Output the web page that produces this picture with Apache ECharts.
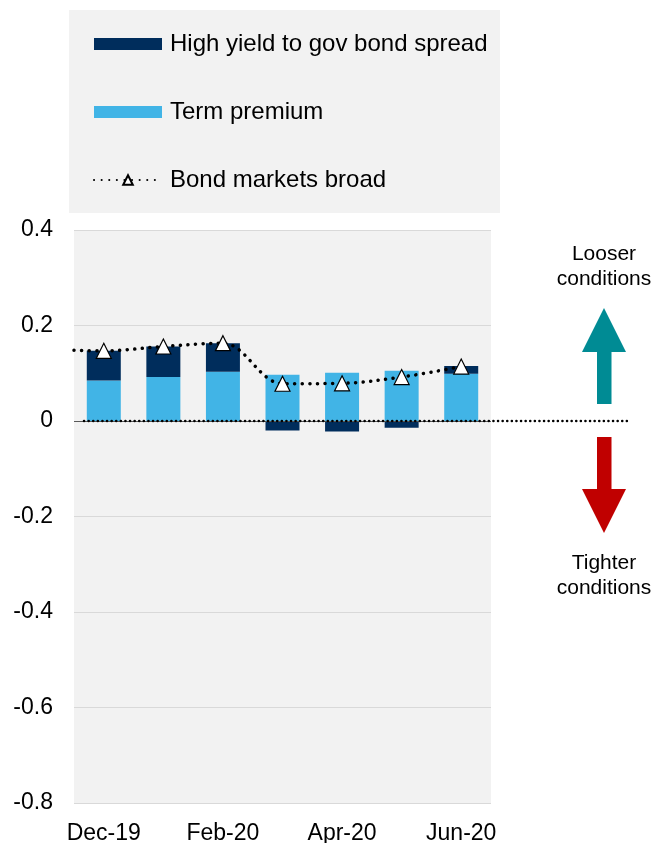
<!DOCTYPE html>
<html><head><meta charset="utf-8">
<script src="https://cdn.jsdelivr.net/npm/echarts@6/dist/echarts.min.js"></script>
<style>html,body{margin:0;padding:0;background:#fff}#c{width:656px;height:843px}</style>
</head><body><div id="c"></div>
<script>
const categories = ['Dec-19','Jan-20','Feb-20','Mar-20','Apr-20','May-20','Jun-20'];
const termPremium = [0.085, 0.092, 0.103, 0.097, 0.101, 0.105, 0.099];
const hySpread = [0.062, 0.064, 0.060, -0.020, -0.022, -0.014, 0.016];
const bondBroad = [0.147, 0.156, 0.163, 0.078, 0.079, 0.092, 0.114];
const bondBroadLeftEdge = 0.148; // value where the line enters at the left edge
const yMin = -0.8, yMax = 0.4, yInterval = 0.2;
const seriesNames = ['High yield to gov bond spread', 'Term premium', 'Bond markets broad'];

const FONT = "'Liberation Sans', Arial, sans-serif";
const chart = echarts.init(document.getElementById('c'), null, {renderer: 'canvas'});

const lineData = [[-0.5, bondBroadLeftEdge, 'edge']].concat(bondBroad.map((v, i) => [i, v]));

chart.setOption({
  animation: false,
  backgroundColor: '#ffffff',
  textStyle: {fontFamily: FONT},
  grid: {left: 74, right: 165, top: 230, bottom: 40, show: true, backgroundColor: '#f2f2f2', borderWidth: 0, containLabel: false, outerBoundsMode: 'none'},
  legend: {
    data: [
      {name: seriesNames[0], icon: 'rect'},
      {name: seriesNames[1], icon: 'rect'},
      {name: seriesNames[2]}
    ],
    orient: 'vertical', left: 88, top: 27,
    itemWidth: 68, itemHeight: 12, itemGap: 44,
    textStyle: {fontSize: 24, color: '#000', fontFamily: FONT, padding: [0, 0, 0, 3]},
    selectedMode: false
  },
  xAxis: [{
    type: 'category', data: categories, position: 'bottom',
    axisLine: {show: false, onZero: false}, axisTick: {show: false},
    axisLabel: {interval: 1, fontSize: 23, color: '#000', margin: 19, fontFamily: FONT},
    splitLine: {show: false}
  }, {
    type: 'value', min: -0.5, max: 6.5, show: false
  }],
  yAxis: {
    type: 'value', min: yMin, max: yMax, interval: yInterval,
    axisLine: {show: false}, axisTick: {show: false},
    axisLabel: {fontSize: 23, color: '#000', margin: 21, fontFamily: FONT},
    splitLine: {lineStyle: {color: '#d9d9d9', width: 1}}
  },
  series: [
    {
      name: seriesNames[1], type: 'bar', stack: 'b', data: termPremium, barWidth: 34,
      itemStyle: {color: '#41b4e6'},
      markLine: {silent: true, symbol: 'none', label: {show: false},
        lineStyle: {color: '#595959', type: 'solid', width: 1}, data: [{yAxis: 0}]}
    },
    {
      name: seriesNames[0], type: 'bar', stack: 'b', data: hySpread, barWidth: 34,
      itemStyle: {color: '#002d5c'}
    },
    {
      name: seriesNames[2], type: 'line', xAxisIndex: 1, data: lineData.map(d => d[2] ? {value: [d[0], d[1]], symbol: 'none'} : d),
      smooth: 0.35, symbol: 'triangle', symbolSize: 15, z: 5,
      lineStyle: {color: '#000', width: 3.5, type: [0.1, 7.5], cap: 'round'},
      itemStyle: {color: '#fff', borderColor: '#000', borderWidth: 1.2}
    }
  ]
});

const y0 = chart.convertToPixel({yAxisIndex: 0}, 0);
chart.setOption({
  graphic: [
    {type: 'rect', z: -10, shape: {x: 69, y: 10, width: 431, height: 203}, style: {fill: '#f2f2f2'}, silent: true},
    {type: 'line', z: 20, shape: {x1: 84, y1: y0, x2: 627, y2: y0}, style: {stroke: '#000', lineWidth: 2.5, lineDash: [0.1, 4.5], lineCap: 'round'}, silent: true},
    {type: 'text', style: {text: 'Looser\nconditions', x: 604, y: 267, align: 'center', verticalAlign: 'middle', font: '21px ' + FONT, fill: '#000', lineHeight: 25}},
    {type: 'text', style: {text: 'Tighter\nconditions', x: 604, y: 576, align: 'center', verticalAlign: 'middle', font: '21px ' + FONT, fill: '#000', lineHeight: 25}},
    {type: 'polygon', shape: {points: [[604, 308], [626, 352], [611.5, 352], [611.5, 404], [597, 404], [597, 352], [582, 352]]}, style: {fill: '#008b94'}},
    {type: 'polygon', shape: {points: [[604, 533], [626, 489], [611.5, 489], [611.5, 437], [597, 437], [597, 489], [582, 489]]}, style: {fill: '#c00000'}}
  ]
});
</script></body></html>
